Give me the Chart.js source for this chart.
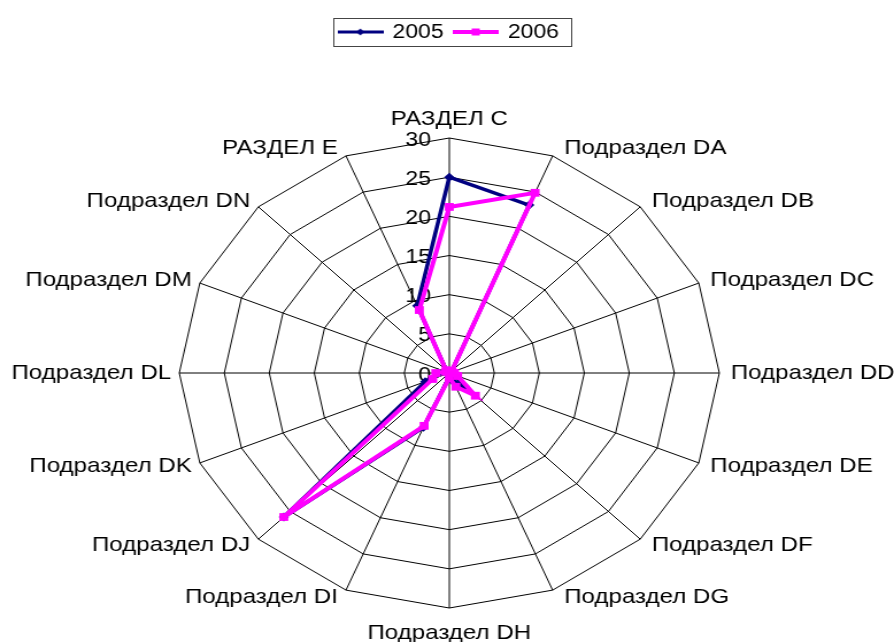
<!DOCTYPE html>
<html>
<head>
<meta charset="utf-8">
<script src="https://cdn.jsdelivr.net/npm/chart.js@4/dist/chart.umd.min.js"></script>
<style>
  html, body { margin: 0; padding: 0; background: #fff; }
  #wrap { position: absolute; left: 0; top: 0; width: 778px; height: 642px;
          transform: scaleX(1.1491); transform-origin: 0 0; }
</style>
</head>
<body>
<div id="wrap"><canvas id="c"></canvas></div>
<script>
const categories = ['РАЗДЕЛ C', 'Подраздел DA', 'Подраздел DB', 'Подраздел DC', 'Подраздел DD',
  'Подраздел DE', 'Подраздел DF', 'Подраздел DG', 'Подраздел DH', 'Подраздел DI',
  'Подраздел DJ', 'Подраздел DK', 'Подраздел DL', 'Подраздел DM', 'Подраздел DN', 'РАЗДЕЛ E'];
const seriesNames = ['2005', '2006'];
const values2005 = [25, 23.2, 0.4, 0.3, 0.5, 0.8, 2.4, 1.2, 0.5, 7.5, 26, 2.9, 1.2, 0.4, 0.5, 9.3];
const values2006 = [21.2, 24.9, 0.4, 0.3, 0.6, 1.0, 4.1, 1.9, 0.6, 7.3, 26, 2.0, 1.5, 0.4, 0.5, 8.7];
const axisMin = 0, axisMax = 30, axisStep = 5;

const FONT = '"Liberation Sans", Arial, sans-serif';
Chart.defaults.color = '#000';
Chart.defaults.font.family = FONT;

function makeIcon(color, lw, shape, size) {
  const c = document.createElement('canvas');
  c.width = 40; c.height = 12;
  const x = c.getContext('2d');
  x.strokeStyle = color; x.fillStyle = color; x.lineWidth = lw;
  x.beginPath(); x.moveTo(0, 6); x.lineTo(40, 6); x.stroke();
  x.beginPath();
  if (shape === 'diamond') {
    x.moveTo(20, 6 - size); x.lineTo(20 + size, 6); x.lineTo(20, 6 + size); x.lineTo(20 - size, 6); x.closePath();
  } else {
    x.rect(20 - size, 6 - size, 2 * size, 2 * size);
  }
  x.fill();
  return c;
}
const legendIcons = [makeIcon('#000080', 3, 'diamond', 3.5), makeIcon('#FF00FF', 4, 'square', 3.5)];

const legendBox = {
  id: 'legendBox',
  afterDraw(chart) {
    const hb = chart.legend && chart.legend.legendHitBoxes;
    if (!hb || !hb.length) return;
    const ctx = chart.ctx;
    const left = hb[0].left - 6;
    const right = hb[hb.length - 1].left + hb[hb.length - 1].width + 10;
    const top = hb[0].top - 4;
    const bottom = hb[0].top + hb[0].height + 4;
    ctx.save();
    ctx.strokeStyle = '#444';
    ctx.lineWidth = 1;
    ctx.strokeRect(Math.round(left) + 0.5, Math.round(top) + 0.5, Math.round(right - left), Math.round(bottom - top));
    ctx.restore();
  }
};

// tick values and category labels, drawn through the radial scale's geometry
const axisText = {
  id: 'axisText',
  beforeDatasetsDraw(chart) {
    const s = chart.scales.r;
    const ctx = chart.ctx;
    const R = s.drawingArea;
    ctx.save();
    ctx.fillStyle = '#000';
    ctx.font = '20px ' + FONT;
    ctx.textAlign = 'right';
    ctx.textBaseline = 'middle';
    s.ticks.forEach(t => {
      const d = s.getDistanceFromCenterForValue(t.value);
      ctx.fillText(t.label, s.xCenter - 16, s.yCenter - d + 2);
    });
    ctx.font = '21px ' + FONT;
    const labels = chart.data.labels;
    labels.forEach((lab, i) => {
      const a = s.getIndexAngle(i);
      const sn = Math.sin(a), cs = Math.cos(a);
      const v = s.getPointPosition(i, R);
      const p = s.getPointPosition(i, R + 8);
      if (Math.abs(sn) < 0.01) {
        ctx.textAlign = 'center';
        if (cs > 0) { ctx.textBaseline = 'bottom'; ctx.fillText(lab, v.x, v.y - 8); }
        else { ctx.textBaseline = 'top'; ctx.fillText(lab, v.x, v.y + 15); }
      } else if (sn > 0) {
        ctx.textAlign = 'left'; ctx.textBaseline = 'middle';
        ctx.fillText(lab, v.x + 10, p.y);
      } else {
        ctx.textAlign = 'right'; ctx.textBaseline = 'middle';
        ctx.fillText(lab, v.x - 7, p.y);
      }
    });
    ctx.restore();
  }
};

new Chart(document.getElementById('c'), {
  type: 'radar',
  data: {
    labels: categories,
    datasets: [
      { label: seriesNames[0], data: values2005, order: 1,
        borderColor: '#000080', backgroundColor: '#000080', borderWidth: 3.5, fill: false,
        pointStyle: 'rectRot', pointRadius: 4.5, pointBackgroundColor: '#000080', pointBorderWidth: 0 },
      { label: seriesNames[1], data: values2006, order: 0,
        borderColor: '#FF00FF', backgroundColor: '#FF00FF', borderWidth: 4, fill: false,
        pointStyle: 'rect', pointRadius: 5.5, pointBackgroundColor: '#FF00FF', pointBorderWidth: 0 }
    ]
  },
  options: {
    responsive: true,
    maintainAspectRatio: false,
    animation: false,
    devicePixelRatio: 1,
    elements: { line: { tension: 0 } },
    layout: { padding: { left: 4, right: 0, top: 12, bottom: 34 } },
    plugins: {
      tooltip: { enabled: false },
      subtitle: { display: true, text: '', weight: 500, font: { size: 10 }, padding: { top: 0, bottom: 74 } },
      legend: {
        position: 'top',
        labels: {
          usePointStyle: true,
          pointStyleWidth: 36,
          padding: 10,
          font: { size: 20, family: FONT },
          color: '#000',
          sort: (a, b) => a.datasetIndex - b.datasetIndex,
          generateLabels: (chart) => Chart.defaults.plugins.legend.labels.generateLabels(chart)
            .map(l => Object.assign({}, l, { pointStyle: legendIcons[l.datasetIndex] }))
        }
      }
    },
    scales: {
      r: {
        min: axisMin, max: axisMax,
        ticks: { stepSize: axisStep, display: false },
        grid: { color: '#000', lineWidth: 1 },
        angleLines: { color: '#000', lineWidth: 1 },
        pointLabels: { display: false }
      }
    }
  },
  plugins: [legendBox, axisText]
});
</script>
</body>
</html>
